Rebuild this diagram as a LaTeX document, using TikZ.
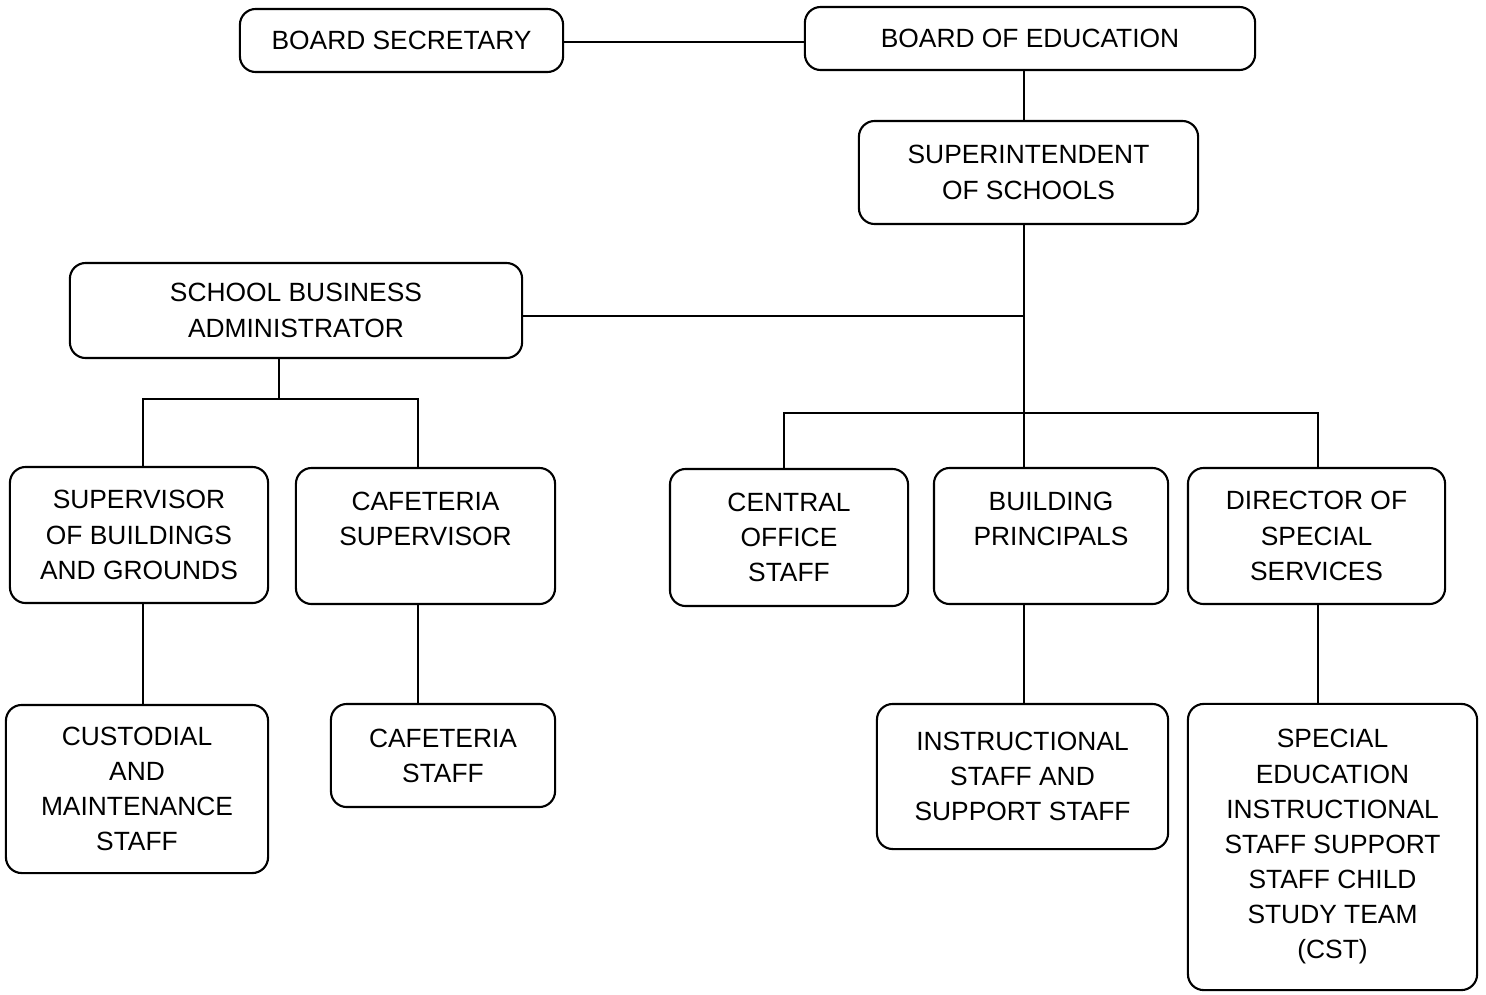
\documentclass[tikz,border=0pt]{standalone}
\usepackage{fontspec}
\setmainfont{Liberation Sans}
\begin{document}
\begin{tikzpicture}[x=0.01cm,y=-0.01cm,
    box/.style={draw,rounded corners=4.5pt,line width=0.6pt,align=center,inner sep=0pt,
      font=\fontsize{7.5}{10}\selectfont},
    link/.style={line width=0.5pt}]
  \useasboundingbox (0,0) rectangle (1486,994);

  % top of the chart
  \node[box,minimum width=3.23cm,minimum height=0.63cm] (sec) at (401.5,40.5) {BOARD SECRETARY};
  \node[box,minimum width=4.50cm,minimum height=0.63cm] (boe) at (1030,38.5) {BOARD OF EDUCATION};
  \node[box,minimum width=3.39cm,minimum height=1.03cm] (sup) at (1028.5,172.5) {SUPERINTENDENT\\OF SCHOOLS};
  \node[box,minimum width=4.52cm,minimum height=0.95cm] (sba) at (296,310.5) {SCHOOL BUSINESS\\ADMINISTRATOR};

  % middle row
  \node[box,minimum width=2.58cm,minimum height=1.36cm] (sbg) at (139,535) {SUPERVISOR\\OF BUILDINGS\\AND GROUNDS};
  \node[box,minimum width=2.59cm,minimum height=1.36cm] (cas) at (425.5,536) {CAFETERIA\\SUPERVISOR\\~};
  \node[box,minimum width=2.38cm,minimum height=1.37cm] (cos) at (789,537.5) {CENTRAL\\OFFICE\\STAFF};
  \node[box,minimum width=2.34cm,minimum height=1.36cm] (bp) at (1051,536) {BUILDING\\PRINCIPALS\\~};
  \node[box,minimum width=2.57cm,minimum height=1.36cm] (dss) at (1316.5,536) {DIRECTOR OF\\SPECIAL\\SERVICES};

  % bottom row
  \node[box,minimum width=2.62cm,minimum height=1.68cm] (cms) at (137,789) {CUSTODIAL\\AND\\MAINTENANCE\\STAFF};
  \node[box,minimum width=2.24cm,minimum height=1.03cm] (cst) at (443,755.5) {CAFETERIA\\STAFF};
  \node[box,minimum width=2.91cm,minimum height=1.45cm] (iss) at (1022.5,776.5) {INSTRUCTIONAL\\STAFF AND\\SUPPORT STAFF};
  \node[box,minimum width=2.89cm,minimum height=2.86cm] (sed) at (1332.5,847) {SPECIAL\\EDUCATION\\INSTRUCTIONAL\\STAFF SUPPORT\\STAFF CHILD\\STUDY TEAM\\(CST)};

  % where the lines run
  \coordinate (trunk) at (1024,0);
  \coordinate (sbaline) at (0,316);
  \coordinate (secline) at (0,42);
  \coordinate (lbus) at (279,399);
  \coordinate (ld) at (143,399);
  \coordinate (rd) at (418,399);
  \coordinate (cd) at (784,413);
  \coordinate (dd) at (1318,413);

  \draw[link] (sec.east |- secline) -- (boe.west |- secline);
  \draw[link] (boe.south -| trunk) -- (sup.north -| trunk);
  \draw[link] (sup.south -| trunk) -- (bp.north -| trunk);
  \draw[link] (sba.east |- sbaline) -- (trunk |- sbaline);
  \draw[link] (cos.north -| cd) -- (cd) -- (dd) -- (dss.north -| dd);
  \draw[link] (sba.south -| lbus) -- (lbus);
  \draw[link] (sbg.north -| ld) -- (ld) -- (rd) -- (cas.north -| rd);
  \draw[link] (sbg.south -| ld) -- (cms.north -| ld);
  \draw[link] (cas.south -| rd) -- (cst.north -| rd);
  \draw[link] (bp.south -| trunk) -- (iss.north -| trunk);
  \draw[link] (dss.south -| dd) -- (sed.north -| dd);
\end{tikzpicture}
\end{document}
